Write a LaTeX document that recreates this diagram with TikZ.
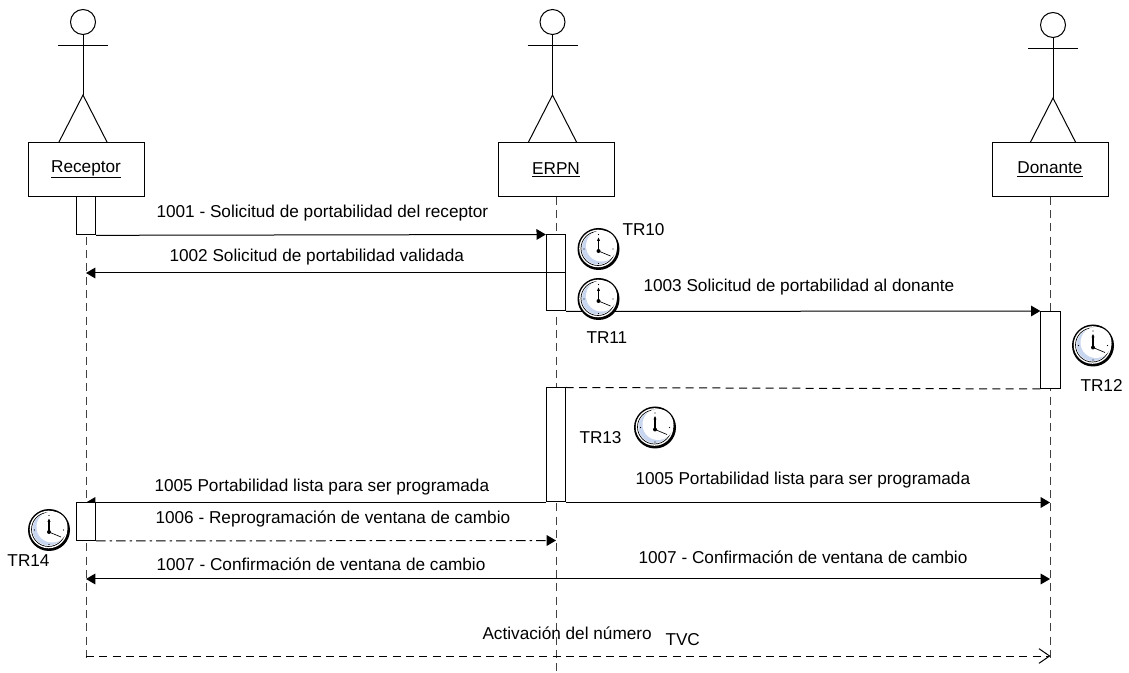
\documentclass[tikz,border=0pt]{standalone}
\usepackage{fontspec}
\setmainfont{Liberation Sans}
\usetikzlibrary{arrows.meta}
\definecolor{faceblue}{RGB}{200,214,240}
\tikzset{every picture/.style={line width=0.75pt}}
\tikzset{
  rolebox/.style={draw,fill=white,minimum width=87pt,minimum height=40pt,inner sep=0pt,font=\fontsize{12.9}{15}\selectfont},
  actbox/.style={draw,fill=white,minimum width=14.5pt,inner sep=0pt},
  msg/.style={-{Triangle[length=7pt,width=8pt]}},
  msgtwo/.style={{Triangle[length=7pt,width=8pt]}-{Triangle[length=7pt,width=8pt]}},
  lifeline/.style={dash pattern=on 6pt off 4pt,color=black!75},
  lbl/.style={anchor=west,inner sep=0.75pt,font=\fontsize{12.9}{15}\selectfont},
  pics/actor/.style={code={
    \draw (0,0) circle (12.5);
    \draw (0,-12.5) -- (0,-73);
    \draw (-25,-24) -- (25,-24);
    \draw (-24.5,-121) -- (0,-73) -- (24.5,-121);
  }},
  pics/clock/.style={code={
    \fill[black] (0,0) circle (21);
    \fill[white] (-0.5,0.5) circle (18.8);
    \draw[line width=0.5pt] (-0.5,0.5) circle (17);
    \fill[faceblue] (-0.5,0.5) circle (16);
    \fill[white] (3,3) circle (15.5);
    \fill[black] (0,-2) circle (2);
    \draw[line width=0.9pt,-{Latex[length=3pt,width=2.5pt]}] (0,-2) -- (0,12);
    \draw[line width=0.5pt] (0,-2) -- (12,-7);
    \foreach \a in {0,90,180,270}
      \fill[black] (\a:14.5) circle (0.7);
  }}
}
\begin{document}
\begin{tikzpicture}[x=0.75pt,y=0.75pt,yscale=-1,xscale=1]
\useasboundingbox (0,0) rectangle (1129,673);

% Actors
\pic at (83,22) {actor};
\pic at (552.5,22) {actor};
\pic at (1053,25) {actor};

% Role boxes
\node [rolebox] (recBox) at (86,169.5) {\underline{Receptor}};
\node [rolebox] (erpnBox) at (556,169.5) {\underline{ERPN}};
\node [rolebox] (donBox) at (1050,169.5) {\underline{Donante}};

% Ends of lifelines
\coordinate (recEnd) at (86,660);
\coordinate (erpnEnd) at (556,673);
\coordinate (donEnd) at (1050,660);
\draw [lifeline] (recBox.south) -- (recEnd);
\draw [lifeline] (erpnBox.south) -- (erpnEnd);
\draw [lifeline] (donBox.south) -- (donEnd);

% Activation bars
\node [actbox,minimum height=29pt] (recAct) at (86,215.5) {};
\node [actbox,minimum height=57pt] (erpnActA) at (556,273) {};
\node [actbox,minimum height=57.75pt] (donAct) at (1050.5,350) {};
\node [actbox,minimum height=85.5pt] (erpnActB) at (556,445) {};

% Free ends of messages
\coordinate (recA) at (86,273);
\coordinate (erpnA) at (566,273);
\coordinate (recB) at (86,502.5);
\coordinate (donB) at (1050,502.5);
\coordinate (erpnC) at (556,540.5);
\coordinate (recD) at (86,579);
\coordinate (donD) at (1050,579);
\coordinate (recE) at (86,656);
\coordinate (donE) at (1050.5,656);

% Messages
\draw [msg] (recAct.south east) -- (erpnActA.north west);
\draw [msg] (erpnA) -- (recA);
\draw [msg] (erpnActA.south east) -- (donAct.north west);
\draw [dash pattern=on 6pt off 4pt] (donAct.south west) -- (erpnActB.north east);
\draw [msg] (erpnActB.south west) -- (recB);
\draw [msg] (erpnActB.south east) -- (donB);
\draw [msgtwo] (recD) -- (donD);
\draw [lifeline,color=black,-{Straight Barb[length=8pt,width=11pt]}] (recE) -- (donE);

% Bar over the arrow head, then the message that leaves it
\node [actbox,minimum height=28.5pt] (recActB) at (86,521.5) {};
\draw [msg,dash pattern=on 7pt off 3pt on 2pt off 3pt] (recActB.south east) -- (erpnC);

% Clocks
\pic at (598.5,249) {clock};
\pic at (598.5,299) {clock};
\pic at (1093,345.5) {clock};
\pic at (655,427.5) {clock};
\pic at (49,530) {clock};

% Text Node
\node [lbl] (m1001) at (155,213) {1001 - Solicitud de portabilidad del receptor};
\node [lbl] (m1002) at (168,257) {1002 Solicitud de portabilidad validada};
\node [lbl] (m1003) at (642,287) {1003 Solicitud de portabilidad al donante};
\node [lbl] (m1005a) at (153,487) {1005 Portabilidad lista para ser programada};
\node [lbl] (m1005b) at (634,480) {1005 Portabilidad lista para ser programada};
\node [lbl] (m1006) at (154,519) {1006 - Reprogramación de ventana de cambio};
\node [lbl] (m1007a) at (155,564) {1007 - Confirmación de ventana de cambio};
\node [lbl] (m1007b) at (637,557) {1007 - Confirmación de ventana de cambio};
\node [lbl] (mAct) at (481,633) {Activación del número};
\node [lbl] (tvc) at (664,640) {TVC};
\node [lbl] (tr10) at (621,230) {TR10};
\node [lbl] (tr11) at (585,338) {TR11};
\node [lbl] (tr12) at (1079,385) {TR12};
\node [lbl] (tr13) at (578,438) {TR13};
\node [lbl] (tr14) at (6,561) {TR14};

\end{tikzpicture}
\end{document}
